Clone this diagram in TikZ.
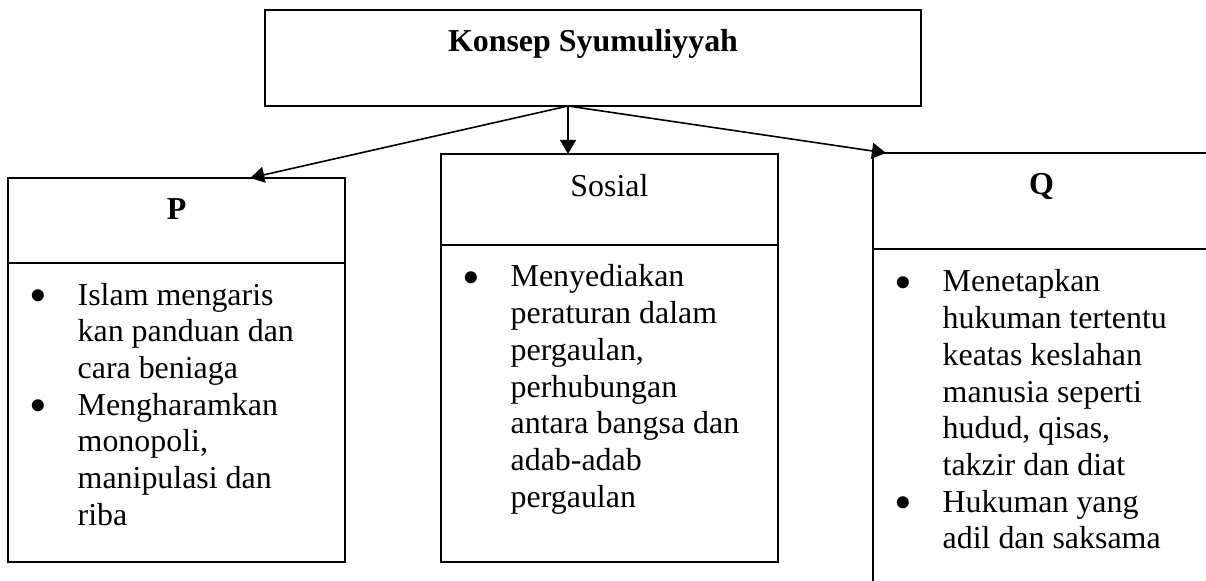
\documentclass[tikz,border=0pt]{standalone}
\usepackage{fontspec}
\setmainfont{Liberation Serif}
\usetikzlibrary{positioning,calc,arrows.meta}

\newcommand\bulletmark{\raisebox{-2.8pt}{\fontsize{19}{13.8}\selectfont\textbullet}}

\begin{document}
\begin{tikzpicture}[x=0.376pt, y=-0.376pt, line width=0.6pt,
  >={Triangle[length=5.3pt, width=6pt]},
  font=\fontsize{12}{13.8}\selectfont,
  box/.style={draw, rectangle, inner sep=0pt, outer sep=0pt, minimum width=126.7pt},
  txt/.style={inner sep=0pt, anchor=base west, align=left}]

  \useasboundingbox (0,0) rectangle (1206,581);
  \clip (0,0) rectangle (1206,581);

  % main box
  \node[box, minimum width=246.7pt, minimum height=36.1pt] (top) at (593,58) {};
  \node[anchor=base, inner sep=0pt] (toplabel) at ($(top.north)+(0,42)$) {\textbf{Konsep Syumuliyyah}};

  % P
  \node[box, minimum height=32pt] (Ptitle) at (176.5,220.5) {};
  \node[box, minimum height=112.4pt] (Pbody) [below=0pt of Ptitle] {};
  \node[anchor=base, inner sep=0pt] (Plabel) at ($(Ptitle.north)+(0,42)$) {\textbf{P}};
  \node[txt] (Ptext) at ($(Pbody.north west)+(21,42)$) {%
    \begin{tabular}[t]{@{}p{18pt}@{}l@{}}
      \bulletmark & Islam mengaris\\
                  & kan panduan dan\\
                  & cara beniaga\\
      \bulletmark & Mengharamkan\\
                  & monopoli,\\
                  & manipulasi dan\\
                  & riba
    \end{tabular}};

  % Sosial
  \node[box, minimum height=34.2pt] (Stitle) at (609.5,199.5) {};
  \node[box, minimum height=119.2pt] (Sbody) [below=0pt of Stitle] {};
  \node[anchor=base, inner sep=0pt] (Slabel) at ($(Stitle.north)+(0,42)$) {Sosial};
  \node[txt] (Stext) at ($(Sbody.north west)+(21,42)$) {%
    \begin{tabular}[t]{@{}p{18pt}@{}l@{}}
      \bulletmark & Menyediakan\\
                  & peraturan dalam\\
                  & pergaulan,\\
                  & perhubungan\\
                  & antara bangsa dan\\
                  & adab-adab\\
                  & pergaulan
    \end{tabular}};

  % Q
  \node[box, minimum height=36.1pt] (Qtitle) at (1041.5,201) {};
  \node[box, minimum height=135.4pt] (Qbody) [below=0pt of Qtitle] {};
  \node[anchor=base, inner sep=0pt] (Qlabel) at ($(Qtitle.north)+(0,42)$) {\textbf{Q}};
  \node[txt] (Qtext) at ($(Qbody.north west)+(21,43)$) {%
    \begin{tabular}[t]{@{}p{18pt}@{}l@{}}
      \bulletmark & Menetapkan\\
                  & hukuman tertentu\\
                  & keatas keslahan\\
                  & manusia seperti\\
                  & hudud, qisas,\\
                  & takzir dan diat\\
      \bulletmark & Hukuman yang\\
                  & adil dan saksama
    \end{tabular}};

  % arrows
  \coordinate (hub) at ($(top.south)+(-25,0)$);
  \draw[->] (hub) -- (Ptitle.30);
  \draw[->] (hub) -- (hub |- Stitle.north);
  \draw[->] (hub) -- ($(Qtitle.north west)+(13,0)$);

\end{tikzpicture}
\end{document}
